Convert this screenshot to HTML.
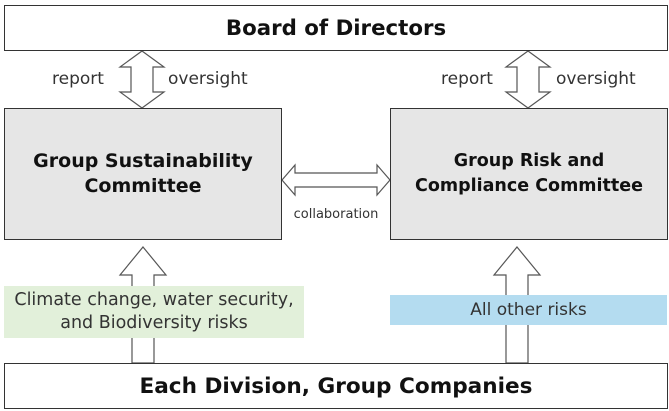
<!DOCTYPE html>
<html><head><style>
body{margin:0;width:669px;height:411px;background:#fff;position:relative;overflow:hidden;font-family:"DejaVu Sans","Liberation Sans",sans-serif;}
.b{position:absolute;box-sizing:border-box;border:1px solid #333;display:flex;align-items:center;justify-content:center;text-align:center;}
.t{position:absolute;color:#333;font-size:17px;}
</style></head><body>
<svg width="669" height="411" style="position:absolute;left:0;top:0">
<g fill="#fff" stroke="#555" stroke-width="1.2">
<polygon points="142,51 164,67 153,67 153,92 164,92 142,108 120,92 131,92 131,67 120,67"/>
<polygon points="528,51 550,67 539,67 539,92 550,92 528,108 506,92 517,92 517,67 506,67"/>
<polygon points="282,180 295,165 295,173 377,173 377,165 390,180 377,195 377,187 295,187 295,195"/>
<polygon points="143,247 166,275 154,275 154,363 132,363 132,275 120,275"/>
<polygon points="517,247 540,275 528,275 528,363 506,363 506,275 494,275"/>
</g>
</svg>
<div class="b" style="left:4px;top:5px;width:664px;height:46px;background:#fff;font-weight:bold;font-size:21.3px;color:#111;">Board of Directors</div>
<div class="t" style="left:52px;top:69px;">report</div>
<div class="t" style="left:168px;top:69px;">oversight</div>
<div class="t" style="left:441px;top:69px;">report</div>
<div class="t" style="left:556px;top:69px;">oversight</div>
<div class="b" style="left:4px;top:108px;width:278px;height:132px;background:#e6e6e6;font-weight:bold;font-size:19px;line-height:25px;color:#111;">Group Sustainability<br>Committee</div>
<div class="b" style="left:390px;top:108px;width:278px;height:132px;background:#e6e6e6;font-weight:bold;font-size:17.5px;line-height:25px;color:#111;">Group Risk and<br>Compliance Committee</div>
<div class="t" style="left:272px;top:207px;width:128px;text-align:center;font-size:13px;">collaboration</div>
<div style="position:absolute;left:4px;top:286px;width:300px;height:52px;background:#e2f0da;color:#333;font-size:17.5px;line-height:23px;text-align:center;padding-top:3px;box-sizing:border-box;">Climate change, water security,<br>and Biodiversity risks</div>
<div style="position:absolute;left:390px;top:295px;width:277px;height:30px;background:#b4dcf0;color:#333;font-size:17px;line-height:30px;text-align:center;">All other risks</div>
<div class="b" style="left:4px;top:363px;width:664px;height:46px;background:#fff;font-weight:bold;font-size:21.6px;color:#111;">Each Division, Group Companies</div>
</body></html>
